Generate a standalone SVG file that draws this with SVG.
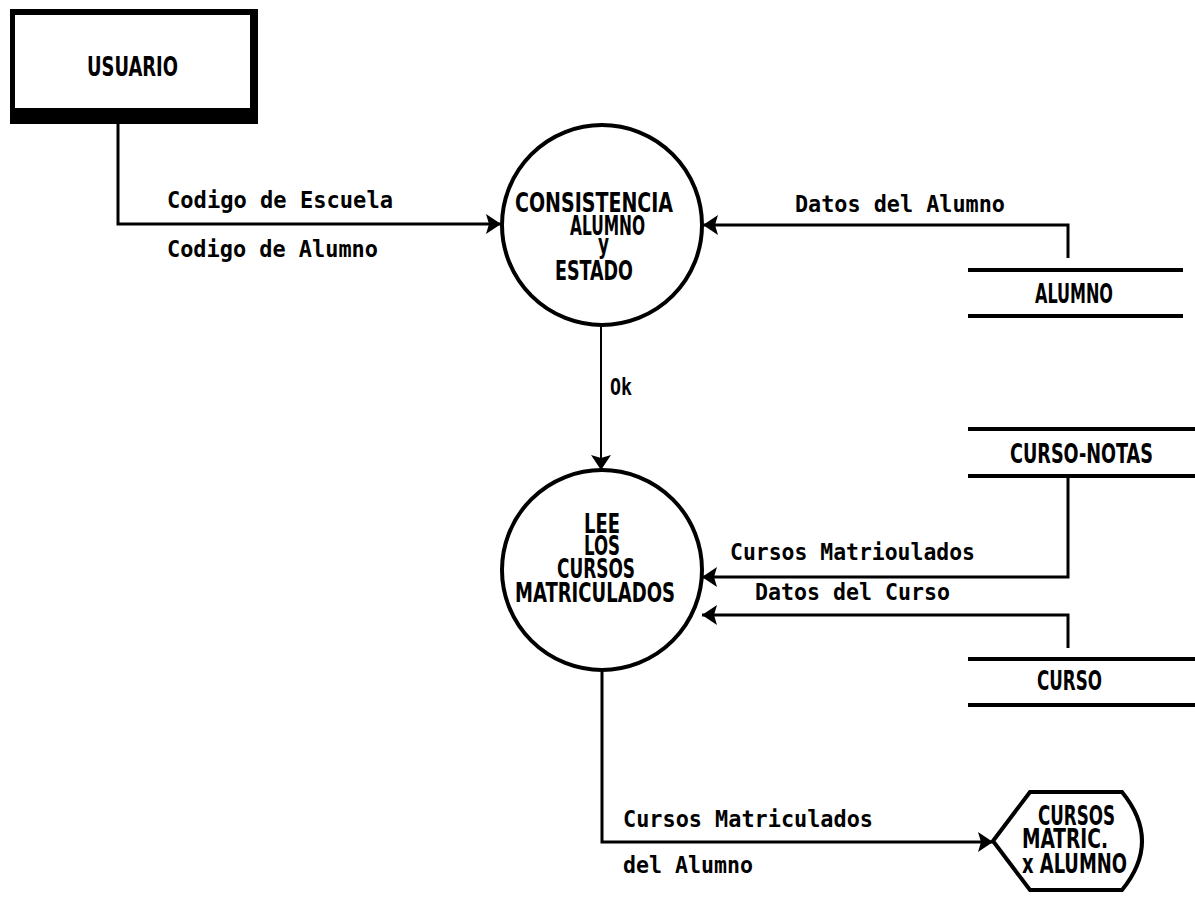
<svg xmlns="http://www.w3.org/2000/svg" width="1195" height="899" viewBox="0 0 1195 899">
  <defs>
    <marker id="arrow" markerUnits="userSpaceOnUse" markerWidth="16" markerHeight="22" refX="15" refY="11" orient="auto">
      <path d="M0,1 L15,11 L0,21 L3,11 Z" fill="#000"/>
    </marker>
    <style>
      .lbl { font-family: "DejaVu Sans Mono", "Liberation Mono", monospace; font-weight: bold; font-size: 23px; fill: #000; }
      .node { font-family: "DejaVu Sans Condensed", "DejaVu Sans", "Liberation Sans", sans-serif; font-weight: bold; font-size: 26px; fill: #000; }
      .flow { fill: none; stroke: #000; stroke-width: 3; }
      .thin { fill: none; stroke: #000; stroke-width: 2; }
      .store { stroke: #000; stroke-width: 4; }
      .proc { fill: #fff; stroke: #000; stroke-width: 4; }
    </style>
  </defs>
  <rect width="1195" height="899" fill="#fff"/>

  <!-- data flows -->
  <g id="connectors">
    <path class="flow" d="M118,124 V224 H501" marker-end="url(#arrow)"/>
    <path class="flow" d="M1068,258 V225 H703" marker-end="url(#arrow)"/>
    <path class="thin" d="M601,326 V470" marker-end="url(#arrow)"/>
    <path class="flow" d="M1068,477 V577 H702" marker-end="url(#arrow)"/>
    <path class="flow" d="M1068,648 V615 H702" marker-end="url(#arrow)"/>
    <path class="flow" d="M602,672 V842 H993" marker-end="url(#arrow)"/>

    <text class="lbl" x="167" y="208" textLength="226" lengthAdjust="spacingAndGlyphs">Codigo de Escuela</text>
    <text class="lbl" x="167" y="257" textLength="211" lengthAdjust="spacingAndGlyphs">Codigo de Alumno</text>
    <text class="lbl" x="795" y="212" textLength="210" lengthAdjust="spacingAndGlyphs">Datos del Alumno</text>
    <text class="lbl" x="610" y="395" textLength="22" lengthAdjust="spacingAndGlyphs">Ok</text>
    <text class="lbl" x="730" y="560" textLength="245" lengthAdjust="spacingAndGlyphs">Cursos Matrioulados</text>
    <text class="lbl" x="755" y="600" textLength="195" lengthAdjust="spacingAndGlyphs">Datos del Curso</text>
    <text class="lbl" x="623" y="827" textLength="250" lengthAdjust="spacingAndGlyphs">Cursos Matriculados</text>
    <text class="lbl" x="623" y="873" textLength="130" lengthAdjust="spacingAndGlyphs">del Alumno</text>
  </g>

  <!-- external entity -->
  <g id="usuario">
    <rect x="10" y="9" width="248" height="115" fill="#000"/>
    <rect x="15" y="15" width="235" height="93" fill="#fff"/>
    <text class="node" x="87" y="76" textLength="91" lengthAdjust="spacingAndGlyphs" font-size="30">USUARIO</text>
  </g>

  <!-- process 1 -->
  <g id="consistencia">
    <circle class="proc" cx="602" cy="225" r="100"/>
    <text class="node" x="515" y="212" textLength="158" lengthAdjust="spacingAndGlyphs">CONSISTENCIA</text>
    <text class="node" x="570" y="235" textLength="75" lengthAdjust="spacingAndGlyphs">ALUMNO</text>
    <text class="node" x="598" y="253" textLength="11" lengthAdjust="spacingAndGlyphs" font-size="20">y</text>
    <text class="node" x="555" y="280" textLength="78" lengthAdjust="spacingAndGlyphs">ESTADO</text>
  </g>

  <!-- process 2 -->
  <g id="lee-cursos">
    <circle class="proc" cx="602" cy="570" r="100"/>
    <text class="node" x="584" y="533" textLength="36" lengthAdjust="spacingAndGlyphs">LEE</text>
    <text class="node" x="584" y="555" textLength="36" lengthAdjust="spacingAndGlyphs">LOS</text>
    <text class="node" x="557" y="578" textLength="78" lengthAdjust="spacingAndGlyphs">CURSOS</text>
    <text class="node" x="515" y="602" textLength="160" lengthAdjust="spacingAndGlyphs">MATRICULADOS</text>
  </g>

  <!-- data stores -->
  <g id="alumno">
    <line class="store" x1="968" y1="270" x2="1183" y2="270"/>
    <line class="store" x1="968" y1="316" x2="1183" y2="316"/>
    <text class="node" x="1035" y="303" textLength="78" lengthAdjust="spacingAndGlyphs">ALUMNO</text>
  </g>

  <g id="curso-notas">
    <line class="store" x1="968" y1="429" x2="1195" y2="429"/>
    <line class="store" x1="968" y1="476" x2="1195" y2="476"/>
    <text class="node" x="1010" y="463" textLength="143" lengthAdjust="spacingAndGlyphs">CURSO-NOTAS</text>
  </g>

  <g id="curso">
    <line class="store" x1="968" y1="659" x2="1195" y2="659"/>
    <line class="store" x1="968" y1="705" x2="1195" y2="705"/>
    <text class="node" x="1037" y="690" textLength="65" lengthAdjust="spacingAndGlyphs">CURSO</text>
  </g>

  <!-- output document -->
  <g id="cursos-matric">
    <path class="proc" d="M993,841 L1030,792 H1122 Q1162,841 1122,890 H1030 Z"/>
    <text class="node" x="1038" y="825" textLength="77" lengthAdjust="spacingAndGlyphs">CURSOS</text>
    <text class="node" x="1022" y="848" textLength="86" lengthAdjust="spacingAndGlyphs">MATRIC.</text>
    <text class="node" x="1022" y="873" textLength="105" lengthAdjust="spacingAndGlyphs">x ALUMNO</text>
  </g>
</svg>
